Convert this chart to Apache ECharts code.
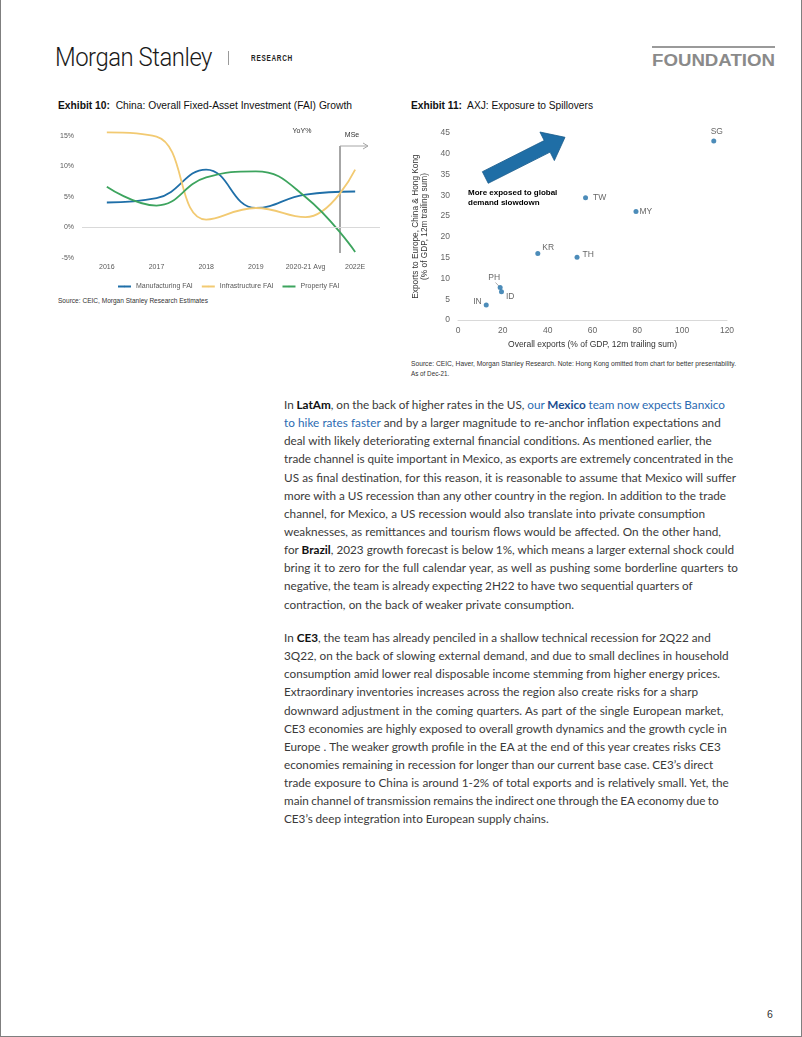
<!DOCTYPE html>
<html><head><meta charset="utf-8">
<script src="https://cdn.jsdelivr.net/npm/echarts@6/dist/echarts.min.js"></script>
<style>
html,body{margin:0;padding:0;background:#fff;}
#page{position:relative;width:802px;height:1037px;overflow:hidden;font-family:Arial,"Liberation Sans",sans-serif;color:#222;}
.abs{position:absolute;white-space:nowrap;}
.fit{transform-origin:0 50%;}
#frame{position:absolute;left:0;top:0;width:802px;height:1037px;box-sizing:border-box;border:1px solid #7f7f7f;border-top:none;}
.body{position:absolute;left:284px;font-family:Lato,"Open Sans",sans-serif;color:#3a3a3a;}
.body div{white-space:nowrap;height:18.15px;line-height:18.15px;}
.body b{color:#111;font-weight:700;}
.lnk{color:#2B6BB2;}
.lnk b{color:#1C4E90;}
</style>
</head><body>
<div id="page">
  <div id="frame"></div>
  <div class="abs fit" data-w="157" style="left:55px;top:43px;height:30px;line-height:30px;font-family:Roboto,'Liberation Sans Narrow',Arial;font-weight:300;font-size:25px;color:#1a1a1a;letter-spacing:-0.5px;">Morgan Stanley</div>
  <div class="abs" style="left:228px;top:51px;width:1px;height:14px;background:#9a9a9a;"></div>
  <div class="abs fit" data-w="42" style="left:251px;top:52px;height:13px;line-height:13px;font-size:9px;font-weight:bold;letter-spacing:1px;color:#222;">RESEARCH</div>
  <div class="abs" style="left:652px;top:46px;width:123px;height:2px;background:#9a9a9a;"></div>
  <div class="abs fit" data-w="123" style="left:652px;top:52px;height:18px;line-height:18px;font-family:'Liberation Sans Narrow',Arial;font-size:16px;font-weight:bold;color:#8a8a8a;">FOUNDATION</div>

  <div class="abs fit" data-w="294" style="left:58px;top:99px;height:14px;line-height:14px;font-size:10px;color:#111;"><b>Exhibit 10:</b>&nbsp; China: Overall Fixed-Asset Investment (FAI) Growth</div>
  <div class="abs fit" data-w="182" style="left:411px;top:99px;height:14px;line-height:14px;font-size:10px;color:#111;"><b>Exhibit 11:</b>&nbsp; AXJ: Exposure to Spillovers</div>

  <div id="c1" class="abs" style="left:50px;top:120px;width:340px;height:175px;"></div>
  <div id="c2" class="abs" style="left:400px;top:120px;width:360px;height:235px;"></div>

  <div class="abs fit" data-w="150" style="left:58px;top:296px;height:10px;line-height:10px;font-size:6.5px;color:#333;">Source: CEIC, Morgan Stanley Research Estimates</div>
  <div class="abs fit" data-w="325" style="left:411px;top:359px;height:10px;line-height:10px;font-size:6.5px;color:#333;">Source: CEIC, Haver, Morgan Stanley Research. Note: Hong Kong omitted from chart for better presentability.</div>
  <div class="abs" style="left:411px;top:369px;height:10px;line-height:10px;font-size:6.3px;color:#333;">As of Dec-21.</div>

  <div class="body" id="p1" style="top:396px;">
    <div>In <b>LatAm</b>, on the back of higher rates in the US, <span class="lnk">our <b>Mexico</b> team now expects Banxico</span></div>
    <div><span class="lnk">to hike rates faster</span> and by a larger magnitude to re-anchor inflation expectations and</div>
    <div>deal with likely deteriorating external financial conditions. As mentioned earlier, the</div>
    <div>trade channel is quite important in Mexico, as exports are extremely concentrated in the</div>
    <div>US as final destination, for this reason, it is reasonable to assume that Mexico will suffer</div>
    <div>more with a US recession than any other country in the region. In addition to the trade</div>
    <div>channel, for Mexico, a US recession would also translate into private consumption</div>
    <div>weaknesses, as remittances and tourism flows would be affected. On the other hand,</div>
    <div>for <b>Brazil</b>, 2023 growth forecast is below 1%, which means a larger external shock could</div>
    <div>bring it to zero for the full calendar year, as well as pushing some borderline quarters to</div>
    <div>negative, the team is already expecting 2H22 to have two sequential quarters of</div>
    <div>contraction, on the back of weaker private consumption.</div>
  </div>
  <div class="body" id="p2" style="top:629px;">
    <div>In <b>CE3</b>, the team has already penciled in a shallow technical recession for 2Q22 and</div>
    <div>3Q22, on the back of slowing external demand, and due to small declines in household</div>
    <div>consumption amid lower real disposable income stemming from higher energy prices.</div>
    <div>Extraordinary inventories increases across the region also create risks for a sharp</div>
    <div>downward adjustment in the coming quarters. As part of the single European market,</div>
    <div>CE3 economies are highly exposed to overall growth dynamics and the growth cycle in</div>
    <div>Europe . The weaker growth profile in the EA at the end of this year creates risks CE3</div>
    <div>economies remaining in recession for longer than our current base case. CE3’s direct</div>
    <div>trade exposure to China is around 1-2% of total exports and is relatively small. Yet, the</div>
    <div>main channel of transmission remains the indirect one through the EA economy due to</div>
    <div>CE3’s deep integration into European supply chains.</div>
  </div>
  <div class="abs" style="left:767px;top:1007px;height:14px;line-height:14px;font-size:10.5px;color:#333;">6</div>
</div>
<script>
// ---- Exhibit 10 data ----
const faiYears = ['2016', '2017', '2018', '2019', '2020-21 Avg', '2022E'];
const manufacturingFAI = [4.1, 4.8, 9.5, 3.2, 5.4, 5.9];
const infrastructureFAI = [15.6, 14.9, 1.3, 3.2, 1.7, 9.5];
const propertyFAI = [6.7, 3.6, 8.2, 9.2, 5.0, -4.0];
const faiTicks = [-5, 0, 5, 10, 15];

// ---- Exhibit 11 data ----
const countries = ['SG', 'TW', 'MY', 'KR', 'TH', 'PH', 'ID', 'IN'];
const overallExports = [114.1, 56.9, 79.4, 35.6, 53.1, 18.8, 19.4, 12.6];
const exportsEuChHK = [43.1, 29.4, 26.1, 16.0, 15.1, 7.8, 6.8, 3.6];

// label placement styles (not data)
const labelStyle = {
  SG: {position: 'top', distance: 2, offset: [3, 0]},
  TW: {position: 'right', distance: 5},
  MY: {position: 'right', distance: 1},
  KR: {position: 'right', distance: 2, offset: [0, -6]},
  TH: {position: 'right', distance: 3, offset: [0, -3]},
  PH: {position: 'top', distance: 3, offset: [-6, 0]},
  ID: {position: 'right', distance: 2, offset: [0, 5]},
  IN: {position: 'left', distance: 2, offset: [0, -3]}
};

const c1 = echarts.init(document.getElementById('c1'), null, {renderer: 'canvas'});
const lineS = (name, data, color) => ({
  name, type: 'line', data, smooth: 0.45, symbol: 'none', clip: false,
  lineStyle: {width: 1.8, color}, itemStyle: {color}
});
const s1 = [
  lineS('Manufacturing FAI', manufacturingFAI, '#1F6FA8'),
  lineS('Infrastructure FAI', infrastructureFAI, '#F2CA72'),
  lineS('Property FAI', propertyFAI, '#3DA45E')
];
s1[0].markLine = {silent: true, symbol: 'none', label: {show: false},
  lineStyle: {color: '#d9d9d9', width: 1, type: 'solid'}, data: [{yAxis: 0}]};
c1.setOption({
  animation: false,
  grid: {left: 32, right: 10, top: 16, bottom: 37},
  xAxis: {type: 'category', data: faiYears, axisLine: {show: false}, axisTick: {show: false},
    axisLabel: {color: '#595959', fontSize: 7, margin: 6, interval: 0}},
  yAxis: {type: 'value', min: faiTicks[0], max: faiTicks[faiTicks.length - 1], interval: 5,
    axisLine: {show: false}, axisTick: {show: false}, splitLine: {show: false},
    axisLabel: {formatter: '{value}%', color: '#595959', fontSize: 7, margin: 8}},
  legend: {left: 62, top: 158, itemWidth: 13, itemHeight: 2, itemGap: 8,
    textStyle: {fontSize: 7, color: '#595959'},
    data: ['Manufacturing FAI', 'Infrastructure FAI', 'Property FAI']},
  series: s1,
  graphic: [
    {type: 'line', shape: {x1: 290, y1: 26, x2: 290, y2: 133}, style: {stroke: '#a6a6a6', lineWidth: 2}},
    {type: 'line', shape: {x1: 290, y1: 26, x2: 318, y2: 26}, style: {stroke: '#a6a6a6', lineWidth: 1}},
    {type: 'polyline', shape: {points: [[313, 23], [318, 26], [313, 29]]}, style: {stroke: '#a6a6a6', lineWidth: 1, fill: null}},
    {type: 'text', x: 302, y: 15, style: {text: 'MSe', fontSize: 7, fill: '#333', align: 'center', verticalAlign: 'middle'}},
    {type: 'text', x: 252, y: 11, style: {text: 'YoY%', fontSize: 7, fill: '#333', align: 'center', verticalAlign: 'middle'}}
  ]
});

// arrow polygon for Exhibit 11 annotation
function arrowPts(tx, ty, px, py, hw, headHw, headLen) {
  const dx = px - tx, dy = py - ty, L = Math.hypot(dx, dy);
  const ux = dx / L, uy = dy / L, nx = -uy, ny = ux;
  const bx = tx + ux * (L - headLen), by = ty + uy * (L - headLen);
  return [
    [tx + nx * hw, ty + ny * hw], [bx + nx * hw, by + ny * hw], [bx + nx * headHw, by + ny * headHw],
    [px, py],
    [bx - nx * headHw, by - ny * headHw], [bx - nx * hw, by - ny * hw], [tx - nx * hw, ty - ny * hw]
  ];
}

const c2 = echarts.init(document.getElementById('c2'), null, {renderer: 'canvas'});
c2.setOption({
  animation: false,
  grid: {left: 58, right: 33, top: 13, bottom: 35},
  xAxis: {type: 'value', min: 0, max: 120, interval: 20,
    name: 'Overall exports (% of GDP, 12m trailing sum)', nameLocation: 'middle', nameGap: 20,
    nameTextStyle: {fontSize: 8.5, color: '#333'},
    axisLine: {lineStyle: {color: '#d9d9d9'}}, axisTick: {show: false}, splitLine: {show: false},
    axisLabel: {color: '#666', fontSize: 8.5, margin: 6}},
  yAxis: {type: 'value', min: 0, max: 45, interval: 5,
    name: 'Exports to Europe, China & Hong Kong\n(% of GDP, 12m trailing sum)', nameLocation: 'middle', nameGap: 27,
    nameTextStyle: {fontSize: 8.3, color: '#333', lineHeight: 9.5},
    axisLine: {show: false}, axisTick: {show: false}, splitLine: {show: false},
    axisLabel: {color: '#666', fontSize: 8.5, margin: 8}},
  series: [{
    type: 'scatter', symbolSize: 5, itemStyle: {color: '#1F6FA8'},
    label: {show: true, formatter: p => p.name, fontSize: 8.5, color: '#404040'},
    data: countries.map((c, i) => ({name: c, value: [overallExports[i], exportsEuChHK[i]], label: labelStyle[c]}))
  }],
  graphic: [
    {type: 'polygon', shape: {points: arrowPts(85.3, 57.5, 165, 17.3, 6.5, 16, 20)},
      style: {fill: '#1F6EA6', stroke: '#185A8A', lineWidth: 0.8}},
    {type: 'text', x: 68, y: 73, style: {text: 'More exposed to global', font: 'bold 8px Arial', fill: '#000', verticalAlign: 'middle'}},
    {type: 'text', x: 68, y: 83, style: {text: 'demand slowdown', font: 'bold 8px Arial', fill: '#000', verticalAlign: 'middle'}},
    {type: 'line', shape: {x1: 95.5, y1: 162.5, x2: 99.3, y2: 166.5}, style: {stroke: '#999', lineWidth: 0.8}}
  ]
});

// text layout fitting
const p1Right = [725, 720.7, 711.7, 733.3, 736, 726, 705, 721, 734, 738, 692.7, 574];
const p2Right = [710.7, 728.7, 720, 698, 723.3, 726.7, 720.7, 713.3, 728.7, 718.7, 548.7];
function layout() {
  document.querySelectorAll('.fit').forEach(el => {
    el.style.transform = 'none';
    const w = el.getBoundingClientRect().width;
    const t = parseFloat(el.dataset.w);
    if (w > 0) el.style.transform = 'scaleX(' + (t / w) + ')';
  });
  const lines = [...document.querySelectorAll('#p1 > div'), ...document.querySelectorAll('#p2 > div')];
  const rights = p1Right.concat(p2Right);
  const base = 13;
  let sumW = 0, sumT = 0;
  lines.forEach((el, i) => {
    el.style.fontSize = base + 'px'; el.style.wordSpacing = '0px';
    const r = document.createRange(); r.selectNodeContents(el);
    sumW += r.getBoundingClientRect().width; sumT += rights[i] - 284;
  });
  const fs = base * sumT / sumW;
  lines.forEach((el, i) => {
    el.style.fontSize = fs + 'px';
    const r = document.createRange(); r.selectNodeContents(el);
    const w = r.getBoundingClientRect().width;
    const spaces = (el.textContent.match(/ /g) || []).length;
    if (spaces) el.style.wordSpacing = ((rights[i] - 284 - w) / spaces) + 'px';
  });
}
layout();
if (document.fonts && document.fonts.ready) document.fonts.ready.then(layout);
</script>
</body></html>
